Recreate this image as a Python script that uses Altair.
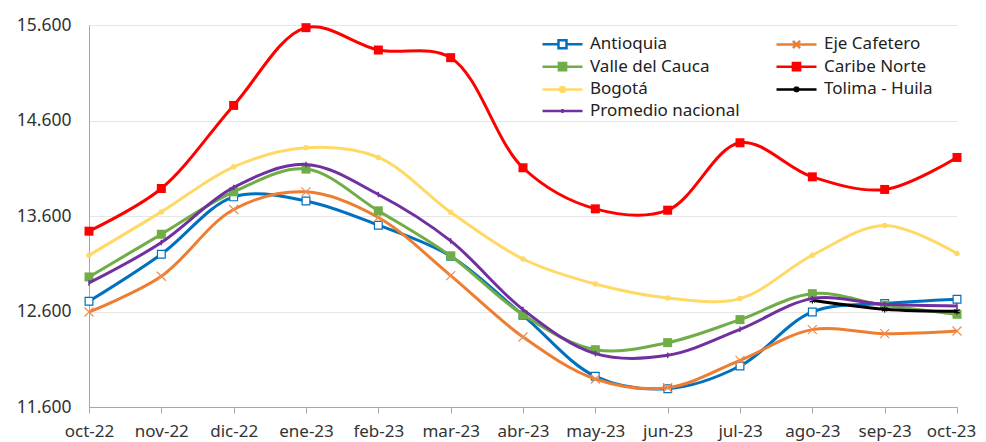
import altair as alt
import pandas as pd

months = ["oct-22", "nov-22", "dic-22", "ene-23", "feb-23", "mar-23", "abr-23",
          "may-23", "jun-23", "jul-23", "ago-23", "sep-23", "oct-23"]

series = ["Antioquia", "Eje Cafetero", "Valle del Cauca", "Caribe Norte",
          "Bogotá", "Tolima - Huila", "Promedio nacional"]

antioquia = [12707, 13200, 13800, 13758, 13504, 13179, 12560, 11921, 11792, 12029, 12595, 12683, 12728]
eje_cafetero = [12595, 12969, 13668, 13853, 13584, 12976, 12333, 11893, 11802, 12088, 12410, 12368, 12396]
valle = [12962, 13409, 13853, 14091, 13654, 13182, 12567, 12200, 12274, 12515, 12787, 12665, 12571]
caribe = [13441, 13888, 14758, 15572, 15338, 15258, 14105, 13675, 13661, 14367, 14010, 13878, 14213]
bogota = [13189, 13643, 14115, 14314, 14213, 13640, 13150, 12888, 12742, 12735, 13189, 13500, 13207]
tolima = [None, None, None, None, None, None, None, None, None, None, 12717, 12623, 12602]
promedio = [12899, 13322, 13899, 14140, 13825, 13339, 12620, 12159, 12141, 12413, 12735, 12675, 12658]

all_values = [antioquia, eje_cafetero, valle, caribe, bogota, tolima, promedio]

colors = ["#0070C0", "#ED7D31", "#70AD47", "#FF0000", "#FFD966", "#000000", "#7030A0"]
legend_fills = ["#FFFFFF", "#ED7D31", "#70AD47", "#FF0000", "#FFD966", "#000000", "#7030A0"]
legend_paths = [
    "M-2.5,0H-0.5M0.5,0H2.5M-0.5,-0.5H0.5V0.5H-0.5Z",
    "M-2.5,0H2.5M-0.45,-0.45L0.45,0.45M-0.45,0.45L0.45,-0.45",
    "M-2.5,0H2.5M-0.45,-0.45H0.45V0.45H-0.45Z",
    "M-2.5,0H2.5M-0.45,-0.45H0.45V0.45H-0.45Z",
    "M-2.5,0H2.5M-0.3,0A0.3,0.3 0 1,1 0.3,0A0.3,0.3 0 1,1 -0.3,0Z",
    "M-2.5,0H2.5M0,-0.35V0.35M-0.3,-0.25L0.3,0.25M-0.3,0.25L0.3,-0.25",
    "M-2.5,0H2.5M0,-0.25V0.25",
]
# legend fills column by column: reorder so rows read as in the reference
legend_order = [0, 2, 4, 6, 1, 3, 5]
leg_domain = [series[i] for i in legend_order]
leg_colors = [colors[i] for i in legend_order]
leg_fills = [legend_fills[i] for i in legend_order]
leg_paths = [legend_paths[i] for i in legend_order]

rows = []
for s, vals in zip(series, all_values):
    for m, v in zip(months, vals):
        if v is not None:
            rows.append({"mes": m, "serie": s, "valor": v})
df = pd.DataFrame(rows)

FONT = "Noto Sans"

x_enc = alt.X("mes:N", sort=months, scale=alt.Scale(type="point", padding=0),
              axis=alt.Axis(title=None, labelAngle=0, labelFontSize=17, labelFont=FONT,
                            labelColor="#333333", domainColor="#A6A6A6", tickColor="#A6A6A6",
                            tickSize=6, labelPadding=10, grid=False,
                            labelOffset={"condition": {"test": "datum.value === 'oct-23'", "value": -6},
                                         "value": 0}))
y_enc = alt.Y("valor:Q", scale=alt.Scale(domain=[11600, 15600], nice=False, zero=False),
              axis=alt.Axis(title=None, values=[11600, 12600, 13600, 14600, 15600],
                            labelExpr="replace(format(datum.value, ','), ',', '.')",
                            labelFontSize=17.5, labelFont=FONT, labelColor="#333333",
                            ticks=False, labelPadding=18, domainColor="#A6A6A6",
                            gridColor="#E6E6E6", gridWidth=1))

markers = {
    "Antioquia": dict(shape="square", size=60, filled=True, fill="#FFFFFF", stroke="#0070C0", strokeWidth=1.2),
    "Eje Cafetero": dict(shape="M-1,-1L1,1M-1,1L1,-1", size=81, filled=False, stroke="#F08C50", strokeWidth=1.2),
    "Valle del Cauca": dict(shape="square", size=81, filled=True, fill="#70AD47", stroke="#70AD47", strokeWidth=0),
    "Caribe Norte": dict(shape="square", size=81, filled=True, fill="#FF0000", stroke="#FF0000", strokeWidth=0),
    "Bogotá": dict(shape="circle", size=30, filled=True, fill="#FFD966", stroke="#FFD966", strokeWidth=0),
    "Tolima - Huila": dict(shape="M0,-1V1M-0.85,-0.6L0.85,0.6M-0.85,0.6L0.85,-0.6", size=40, filled=False, stroke="#000000", strokeWidth=1.2),
    "Promedio nacional": dict(shape="M0,-1V1", size=30, filled=False, stroke="#7030A0", strokeWidth=1.5),
}

base = alt.Chart(df)
layers = []
for s, c in zip(series, colors):
    sub = base.transform_filter(alt.datum.serie == s)
    line = sub.mark_line(color=c, strokeWidth=3, interpolate="catmull-rom", clip=False).encode(x=x_enc, y=y_enc)
    mk = markers[s]
    pts = sub.mark_point(opacity=1, **mk).encode(x=x_enc, y=y_enc)
    layers += [line, pts]

legend_layer = base.transform_filter("datum.valor < 0").mark_point(filled=True, opacity=1).encode(
    x=x_enc, y=y_enc,
    stroke=alt.Stroke("serie:N", scale=alt.Scale(domain=leg_domain, range=leg_colors), title=None),
    fill=alt.Fill("serie:N", scale=alt.Scale(domain=leg_domain, range=leg_fills), title=None),
    shape=alt.Shape("serie:N", scale=alt.Scale(domain=leg_domain, range=leg_paths), title=None),
)
layers.append(legend_layer)

chart = alt.layer(*layers).properties(
    width=868, height=382,
    autosize=alt.AutoSizeParams(type="none"),
    padding={"left": 81, "top": 17, "right": 21, "bottom": 35},
).configure_view(stroke=None).configure_legend(
    orient="none", legendX=464, legendY=9.5, columns=2, padding=0,
    symbolSize=256, symbolStrokeWidth=2.5, symbolOpacity=1,
    labelFontSize=17, labelFont=FONT, labelColor="#222222", labelOffset=18,
    labelLimit=300, rowPadding=3.7, columnPadding=31,
)

chart.save("out.html", embed_options={"renderer": "svg", "actions": False})
